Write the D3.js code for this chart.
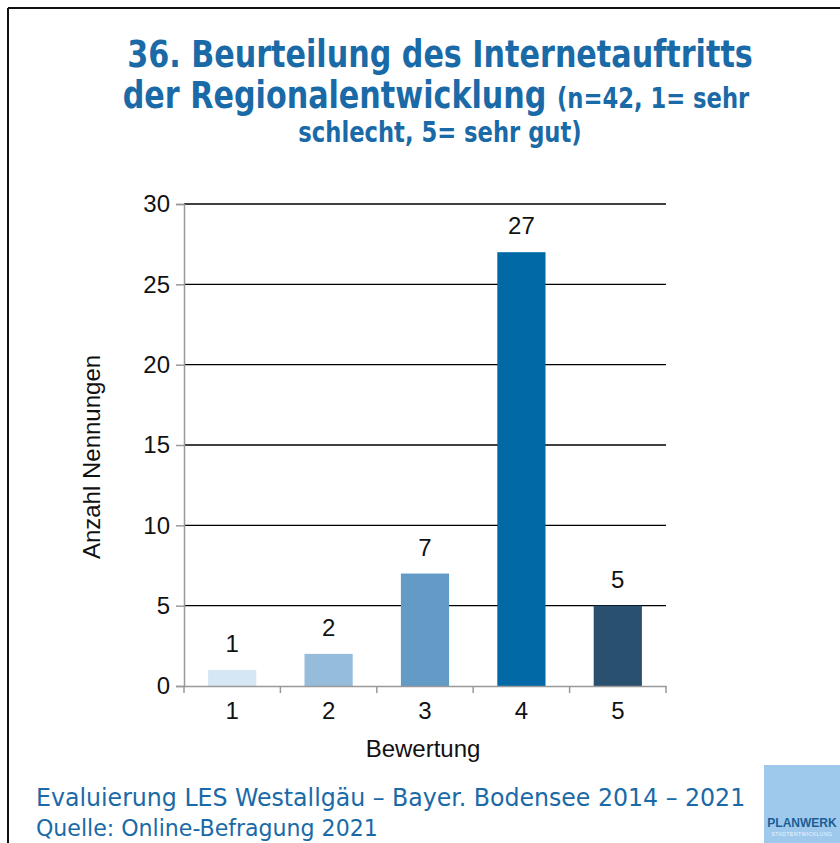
<!DOCTYPE html>
<html>
<head>
<meta charset="utf-8">
<script src="https://cdn.jsdelivr.net/npm/d3@7"></script>
<style>
  html, body { margin: 0; padding: 0; background: #fff; }
  svg { display: block; }
</style>
</head>
<body>
<script>
// Survey question 36: rating of the regional development website
const categories = ["1", "2", "3", "4", "5"];
const counts = [1, 2, 7, 27, 5];
const barColors = ["#d5e6f5", "#95bcdb", "#639bc7", "#0069a6", "#2a5070"];
const yTicks = [0, 5, 10, 15, 20, 25, 30];

const W = 840, H = 843;
const titleColor = "#1a6aa7";
const sans = "'Liberation Sans', Arial, sans-serif";
const heading = "'DejaVu Sans Condensed', 'DejaVu Sans', sans-serif";

const svg = d3.select("body").append("svg")
  .attr("width", W).attr("height", H);

svg.append("rect").attr("width", W).attr("height", H).attr("fill", "#fff");

// frame lines (top and left)
svg.append("line").attr("x1", 8).attr("x2", W).attr("y1", 8).attr("y2", 8)
  .attr("stroke", "#111").attr("stroke-width", 2);
svg.append("line").attr("x1", 8).attr("x2", 8).attr("y1", 8).attr("y2", H)
  .attr("stroke", "#111").attr("stroke-width", 2);

// title, set in a narrowed bold face
const titleLine = (cx, yPos) => svg.append("g")
  .attr("transform", `translate(${cx},${yPos}) scale(0.9,1)`)
  .append("text").attr("text-anchor", "middle").attr("fill", titleColor)
  .attr("font-family", heading).attr("font-weight", "bold");
titleLine(440, 67).attr("font-size", 37.3).text("36. Beurteilung des Internetauftritts");
const t2 = titleLine(436, 108);
t2.append("tspan").attr("font-size", 37.3).text("der Regionalentwicklung ");
t2.append("tspan").attr("font-size", 28).text("(n=42, 1= sehr");
titleLine(440, 142).attr("font-size", 28).text("schlecht, 5= sehr gut)");

// plot area
const m = { left: 184, right: 666, top: 204, bottom: 686 };
const x = d3.scaleBand().domain(categories).range([m.left, m.right]).paddingInner(0.5).paddingOuter(0.25);
const xb = d3.scaleBand().domain(categories).range([m.left, m.right]);
const y = d3.scaleLinear().domain([0, 30]).range([m.bottom, m.top]);

// gridlines
svg.append("g").selectAll("line").data(yTicks.filter(d => d > 0)).join("line")
  .attr("x1", m.left).attr("x2", m.right)
  .attr("y1", d => y(d)).attr("y2", d => y(d))
  .attr("stroke", "#000").attr("stroke-width", 1.3);

// bars
svg.append("g").selectAll("rect").data(counts).join("rect")
  .attr("x", (d, i) => x(categories[i]))
  .attr("width", x.bandwidth())
  .attr("y", d => y(d))
  .attr("height", d => y(0) - y(d))
  .attr("fill", (d, i) => barColors[i]);

// value labels
svg.append("g").selectAll("text").data(counts).join("text")
  .attr("x", (d, i) => x(categories[i]) + x.bandwidth() / 2)
  .attr("y", d => y(d) - 18)
  .attr("text-anchor", "middle")
  .attr("font-family", sans)
  .attr("font-size", 24).attr("fill", "#111")
  .text(d => d);

// y axis
const yAxis = svg.append("g").attr("transform", `translate(${m.left},0)`)
  .call(d3.axisLeft(y).tickValues(yTicks).tickSize(8).tickPadding(6));
yAxis.select(".domain").attr("stroke", "#999").attr("stroke-width", 1.5);
yAxis.selectAll(".tick line").attr("stroke", "#999").attr("stroke-width", 1.5);
yAxis.selectAll(".tick text").attr("font-family", sans)
  .attr("font-size", 24).attr("fill", "#111");

// x axis with boundary ticks between categories
const xAxis = svg.append("g").attr("transform", `translate(0,${m.bottom})`)
  .call(d3.axisBottom(x).tickSize(0).tickPadding(16));
xAxis.select(".domain").attr("stroke", "#999").attr("stroke-width", 1.5);
xAxis.selectAll(".tick text").attr("font-family", sans)
  .attr("font-size", 24).attr("fill", "#111");
const bounds = categories.map(c => xb(c)).concat([m.right]);
svg.append("g").selectAll("line").data(bounds).join("line")
  .attr("x1", d => d).attr("x2", d => d)
  .attr("y1", m.bottom).attr("y2", m.bottom + 7)
  .attr("stroke", "#999").attr("stroke-width", 1.5);

// axis titles
svg.append("text").attr("x", (m.left + m.right) / 2 - 2).attr("y", 757)
  .attr("text-anchor", "middle").attr("font-family", sans)
  .attr("font-size", 24).attr("fill", "#111").text("Bewertung");
svg.append("text").attr("transform", `translate(100,457) rotate(-90)`)
  .attr("text-anchor", "middle").attr("font-family", sans)
  .attr("font-size", 24).attr("fill", "#111").text("Anzahl Nennungen");

// footer
svg.append("g").attr("transform", "translate(36,806) scale(1.04,1)")
  .append("text").attr("font-family", heading).attr("font-size", 25.3)
  .attr("fill", titleColor).text("Evaluierung LES Westallgäu – Bayer. Bodensee 2014 – 2021");
svg.append("g").attr("transform", "translate(36,836) scale(1.04,1)")
  .append("text").attr("font-family", heading).attr("font-size", 23.6)
  .attr("fill", titleColor).text("Quelle: Online-Befragung 2021");

// logo
svg.append("rect").attr("x", 764).attr("y", 765).attr("width", 76).attr("height", 78).attr("fill", "#9fc9ec");
svg.append("text").attr("x", 802).attr("y", 827).attr("text-anchor", "middle")
  .attr("font-family", sans).attr("font-weight", "bold")
  .attr("font-size", 12).attr("fill", "#1d5f95").text("PLANWERK");
svg.append("text").attr("x", 802).attr("y", 836).attr("text-anchor", "middle")
  .attr("font-family", sans)
  .attr("font-size", 5).attr("fill", "#eef6ff").attr("letter-spacing", 0.5).text("STADTENTWICKLUNG");
</script>
</body>
</html>
